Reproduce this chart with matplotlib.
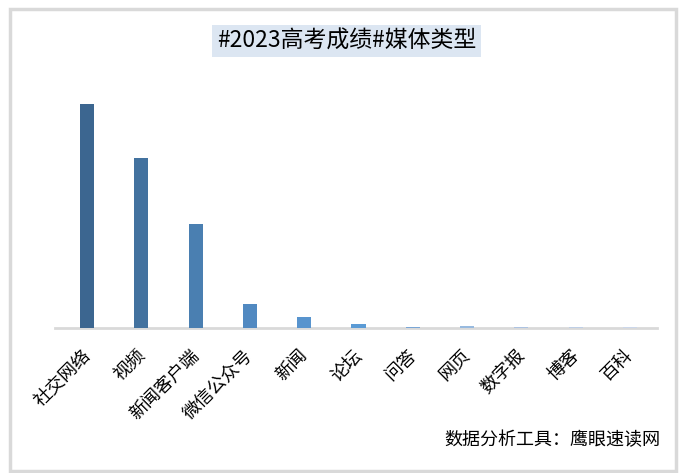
import matplotlib
matplotlib.use('Agg')
import matplotlib.pyplot as plt
import matplotlib.transforms as mtrans
from matplotlib.patches import Rectangle

plt.rcParams['font.family'] = ['Noto Sans CJK SC', 'DejaVu Sans']

#%% data
categories = ['社交网络', '视频', '新闻客户端', '微信公众号', '新闻', '论坛',
              '问答', '网页', '数字报', '博客', '百科']
counts = [5600, 4250, 2600, 600, 280, 110, 30, 55, 25, 20, 20]
bar_colors = ['#3c6690', '#43729f', '#4a7fb1', '#5189c1', '#5894ce', '#5b9bd5',
              '#7aa6d6', '#98badf', '#adc3e2', '#bfcfe6', '#ccd7ea']

title = '#2023高考成绩#媒体类型'
footer = '数据分析工具：鹰眼速读网'

#%% plot
fig = plt.figure(figsize=(6.91, 4.73), dpi=100)
ax = fig.add_axes([0.0796, 0.3066, 0.8714, 0.5034])

x = list(range(len(categories)))
ax.bar(x, counts, width=0.26, color=bar_colors, zorder=3)

ax.set_xlim(-0.59, 10.5)
ax.set_ylim(0, max(counts) * 238 / 224)

for s in ['top', 'right', 'left']:
    ax.spines[s].set_visible(False)
ax.spines['bottom'].set_color('#d9d9d9')
ax.spines['bottom'].set_linewidth(2)
ax.spines['bottom'].set_zorder(1)
ax.set_yticks([])
ax.set_xticks(x)
ax.set_xticklabels(categories, rotation=45, ha='right', rotation_mode='anchor',
                   fontsize=13)
ax.tick_params(axis='x', length=0, pad=13)

# shift labels a bit left like the original
offset = mtrans.ScaledTranslation(-6 / 100, 0, fig.dpi_scale_trans)
for lab in ax.get_xticklabels():
    lab.set_transform(lab.get_transform() + offset)

fig.text(0.502, 0.913, title, ha='center', va='center', fontsize=16.5,
         bbox=dict(facecolor='#dce6f2', edgecolor='none', pad=3.5))
fig.text(0.955, 0.07, footer, ha='right', va='center', fontsize=13)

# outer frame
fig.add_artist(Rectangle((0.015, 0.004), 0.964, 0.976, transform=fig.transFigure,
                         fill=False, edgecolor='#d9d9d9', linewidth=2.5))

fig.savefig('out.png', dpi=100)
